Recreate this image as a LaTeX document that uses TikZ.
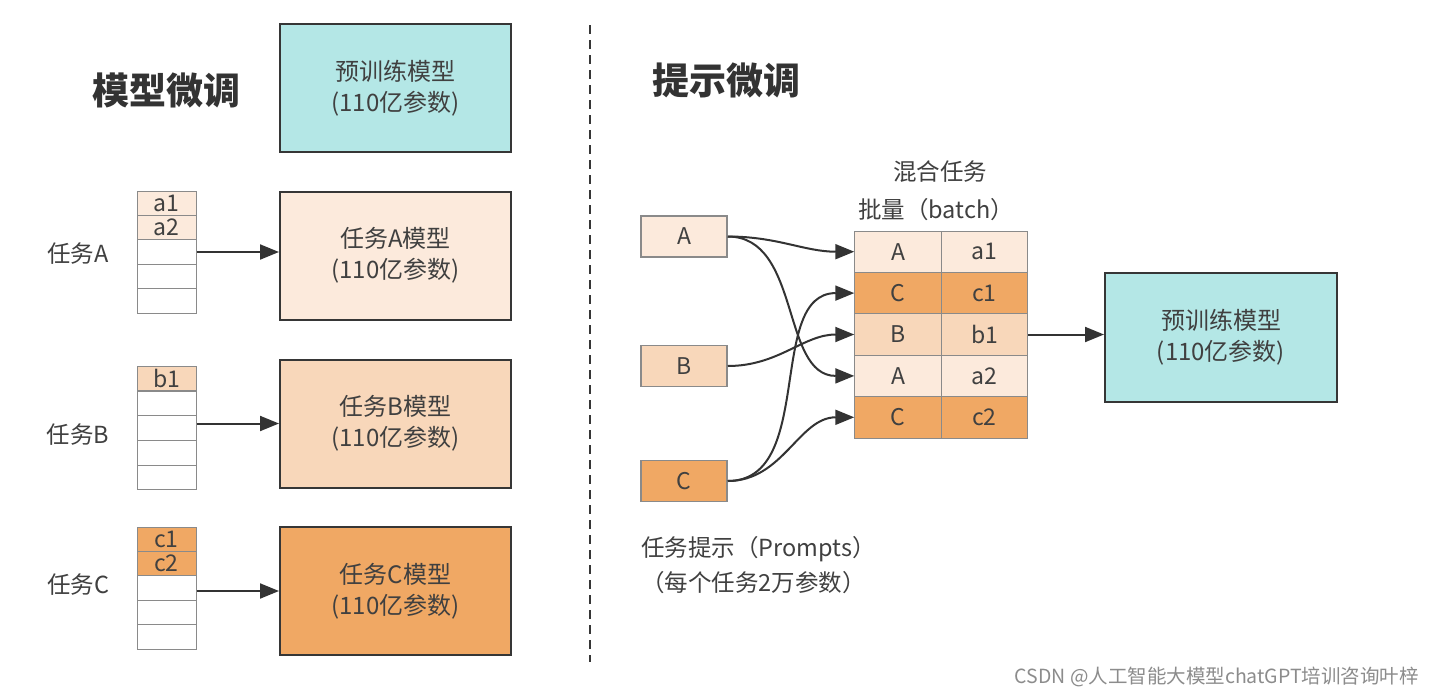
\documentclass[tikz,border=0pt]{standalone}
\usepackage{fontspec}
\setmainfont{Noto Sans CJK SC}
\usetikzlibrary{arrows.meta}
\definecolor{pretrain}{HTML}{B4E7E6}
\definecolor{lightA}{HTML}{FCEADC}
\definecolor{midB}{HTML}{F8D7BA}
\definecolor{deepC}{HTML}{F0A864}
\definecolor{txt}{HTML}{404040}
\definecolor{boxline}{HTML}{363636}
\definecolor{cellline}{HTML}{8A8A8A}
\definecolor{arrline}{HTML}{333333}

\begin{document}
\begin{tikzpicture}
    [x=1pt,y=-1pt,
     model/.style={draw=boxline,line width=2pt,minimum width=231pt,minimum height=128pt,
       inner sep=0pt,align=center,text=txt,font=\fontsize{24}{31}\selectfont},
     cell/.style={draw=cellline,line width=1pt,minimum width=59pt,minimum height=24.4pt,
       inner sep=0pt,text=txt,font=\fontsize{23}{23}\selectfont},
     prompt/.style={draw=cellline,line width=1.5pt,minimum width=86pt,minimum height=41pt,
       inner sep=0pt,text=txt,font=\fontsize{23}{23}\selectfont},
     slot/.style={draw=cellline,line width=1pt,minimum width=86.5pt,minimum height=41.4pt,
       inner sep=0pt,text=txt,font=\fontsize{23}{23}\selectfont},
     label/.style={text=txt,font=\fontsize{23.5}{30}\selectfont,inner sep=0pt},
     heading/.style={text=black!80,font=\fontsize{37}{37}\selectfont\bfseries,inner sep=0pt},
     arr/.style={-{Triangle[length=19pt,width=15pt]},line width=2pt,draw=arrline}]
  \useasboundingbox[fill=white] (0,0) rectangle (1432,697);

  % left half: one full model per task
  \node[heading] (ftitle) at (166,90) {模型微调};
  \node[model,fill=pretrain] (pre) at (395.5,88) {预训练模型\\(110亿参数)};
  \node[model,fill=lightA] (modA) at (395.5,255.5) {任务A模型\\(110亿参数)};
  \node[model,fill=midB] (modB) at (395.5,423.5) {任务B模型\\(110亿参数)};
  \node[model,fill=deepC] (modC) at (395.5,591) {任务C模型\\(110亿参数)};

  \node[cell,fill=lightA] (sA1) at (166.5,203.2) {a1};
  \node[cell,fill=lightA] (sA2) at (166.5,227.6) {a2};
  \foreach \i/\y in {3/252,4/276.4,5/300.8}
    \node[cell] (sA\i) at (166.5,\y) {};
  \node[cell,fill=midB] (sB1) at (166.5,378.4) {b1};
  \foreach \i/\y in {2/403.2,3/428,4/452.8,5/477.6}
    \node[cell] (sB\i) at (166.5,\y) {};
  \node[cell,fill=deepC] (sC1) at (166.5,539.2) {c1};
  \node[cell,fill=deepC] (sC2) at (166.5,563.6) {c2};
  \foreach \i/\y in {3/588,4/612.4,5/636.8}
    \node[cell] (sC\i) at (166.5,\y) {};

  \node[label] (tA) at (78,254) {任务A};
  \node[label] (tB) at (78,435) {任务B};
  \node[label] (tC) at (78,585) {任务C};

  \draw[arr] (sA3.east) -- (sA3.east -| modA.west);
  \draw[arr] (sB3.east |- modB.west) -- (modB.west);
  \draw[arr] (sC3.east |- modC.west) -- (modC.west);

  % divider
  \coordinate (dtop) at (590,25);
  \coordinate (dbot) at (590,662);
  \draw[boxline,line width=2.5pt,dash pattern=on 9pt off 6pt] (dtop) -- (dbot);

  % right half: prompts mixed in one batch
  \node[heading] (ptitle) at (726,80) {提示微调};
  \node[prompt,fill=lightA] (pA) at (684,236.5) {A};
  \node[prompt,fill=midB] (pB) at (684,366) {B};
  \node[prompt,fill=deepC] (pC) at (684,481) {C};

  \foreach \i/\k/\v/\c in {1/A/a1/lightA,2/C/c1/deepC,3/B/b1/midB,4/A/a2/lightA,5/C/c2/deepC} {
    \node[slot,fill=\c] (k\i) at (898,{231+41.4*(\i-0.5)}) {\k};
    \node[slot,fill=\c] (v\i) at (984.5,{231+41.4*(\i-0.5)}) {\v};
  }
  \node[label] (mix) at (940,172) {混合任务};
  \node[label] (batch) at (936,210) {批量（batch）};

  \node[model,fill=pretrain,minimum width=232pt,minimum height=129pt] (preR) at (1221,337.5) {预训练模型\\(110亿参数)};
  \draw[arr] (v3.east) -- (v3.east -| preR.west);

  \draw[arr] (pA.east) to[out=0,in=180] (k1.west);
  \draw[arr] (pA.east) to[out=0,in=180] (k4.west);
  \draw[arr] (pB.east) to[out=0,in=180] (k3.west);
  \draw[arr] (pC.east) to[out=0,in=180] (k2.west);
  \draw[arr] (pC.east) to[out=0,in=180] (k5.west);

  \node[label,anchor=west] (cap1) at (641,549) {任务提示（Prompts）};
  \node[label,anchor=west] (cap2) at (641,583) {（每个任务2万参数）};

  \node[anchor=east,inner sep=0pt,text=black!45,font=\fontsize{19.5}{19.5}\selectfont] (mark) at (1419,677) {CSDN @人工智能大模型chatGPT培训咨询叶梓};
\end{tikzpicture}
\end{document}
